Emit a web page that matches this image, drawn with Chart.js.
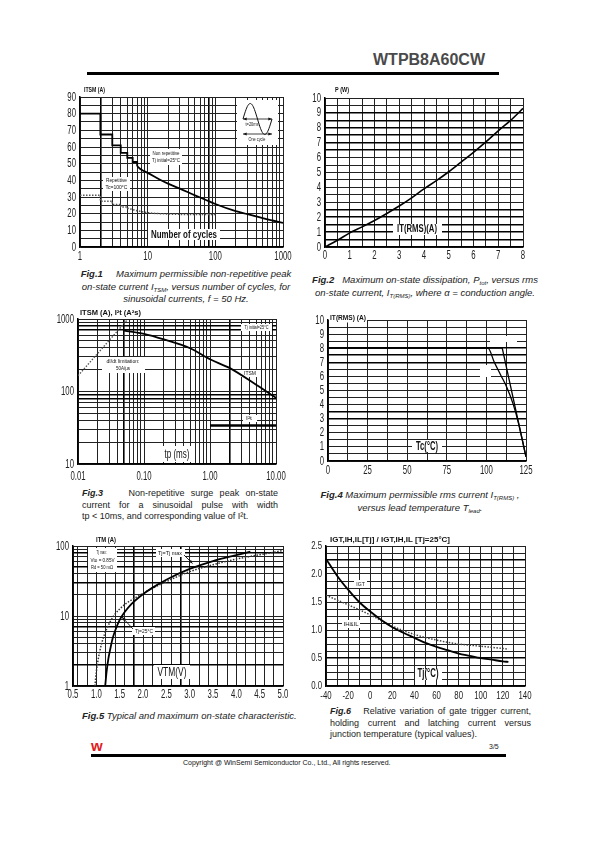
<!DOCTYPE html>
<html>
<head>
<meta charset="utf-8">
<title>WTPB8A60CW</title>
<script src="https://cdn.jsdelivr.net/npm/chart.js@4.4.1/dist/chart.umd.min.js"></script>
<style>
html,body{margin:0;padding:0;background:#fff;}
body{width:595px;height:842px;position:relative;overflow:hidden;font-family:'Liberation Sans',Arial,sans-serif;color:#111;}
canvas{position:absolute;}
.abs{position:absolute;white-space:nowrap;}
.cap{position:absolute;font-size:9.5px;line-height:12.5px;font-style:italic;color:#222;white-space:nowrap;}
.cap b{font-weight:bold;}
.reg{font-style:normal;font-size:9px;line-height:11.5px;}
.j{text-align:justify;text-align-last:justify;white-space:normal;}
sub{font-size:6px;vertical-align:-2px;line-height:0;}
</style>
</head>
<body>
<div class="abs" style="left:373px;top:52px;font-size:16px;font-weight:bold;color:#4a4a4a;line-height:16px;">WTPB8A60CW</div>
<div class="abs" style="left:87px;top:72px;width:412px;height:3px;background:#000;"></div>

<div class="cap" style="left:78px;top:268px;width:216px;text-align:center;"><b>Fig.1</b>&nbsp;&nbsp;&nbsp;&nbsp; Maximum permissible non-repetitive peak<br>on-state current I<sub>TSM</sub>, versus number of cycles, for<br>sinusoidal currents, f = 50 Hz.</div>
<div class="cap" style="left:312px;top:272.5px;width:226px;line-height:13px;text-align:center;"><b>Fig.2</b>&nbsp;&nbsp; Maximum on-state dissipation, P<sub>tot</sub>, versus rms<br>on-state current, I<sub>T(RMS)</sub>, where α = conduction angle.</div>
<div class="cap reg" style="left:82px;top:488px;width:196px;">
<div class="j"><b><i>Fig.3</i></b>&nbsp;&nbsp;&nbsp; Non-repetitive surge peak on-state</div>
<div class="j">current for a sinusoidal pulse with width</div>
<div>tp &lt; 10ms, and corresponding value of I²t.</div></div>
<div class="cap" style="left:306px;top:488px;width:228px;line-height:13px;text-align:center;"><b>Fig.4</b> Maximum permissible rms current I<sub>T(RMS)</sub> ,<br>versus lead temperature T<sub>lead</sub>.</div>
<div class="cap" style="left:82px;top:710px;"><b>Fig.5</b> Typical and maximum on-state characteristic.</div>
<div class="cap reg" style="left:330px;top:706px;width:201px;">
<div class="j"><b><i>Fig.6</i></b>&nbsp;&nbsp; Relative variation of gate trigger current,</div>
<div class="j">holding current and latching current versus</div>
<div>junction temperature (typical values).</div></div>

<div class="abs" style="left:91px;top:738px;font-size:15px;line-height:15px;font-weight:900;color:#e02020;">w</div>
<div class="abs" style="left:489px;top:743px;font-size:7px;line-height:8px;color:#222;">3/5</div>
<div class="abs" style="left:91px;top:754px;width:415px;height:3px;background:#000;"></div>
<div class="abs" style="left:183px;top:759px;font-size:7px;line-height:8px;color:#111;">Copyright @ WinSemi Semiconductor Co., Ltd., All rights reserved.</div>

<script>
// ================= DATA =================
// Fig.1  ITSM vs number of cycles
const fig1NonRepStepCycles = [1, 2, 3, 4, 5, 6, 7];
const fig1NonRepStepItsm   = [80, 67.5, 61, 56.5, 53.5, 51, 48.5];
const fig1NonRepCycles = [7, 8, 10, 15, 20, 30, 50, 70, 100, 200, 300, 500, 700, 1000];
const fig1NonRepItsm   = [48.5, 46.5, 44.5, 40.5, 38, 35, 31, 28.5, 25.8, 21.5, 19.7, 17.3, 15.9, 14.5];
const fig1RepStepCycles = [1, 2, 3, 4, 5];
const fig1RepStepItsm   = [31, 27.5, 25.5, 24, 23.3];
const fig1RepCycles = [5, 7, 10, 20, 50, 100];
const fig1RepItsm   = [23.3, 21.8, 20.6, 19.8, 19.5, 19.5];
const fig1XTickLabels = ['1', '10', '100', '1000'];
const fig1YTickLabels = ['0', '10', '20', '30', '40', '50', '60', '70', '80', '90'];

// Fig.2  P vs IT(RMS)
const fig2Irms = [0, 0.5, 1, 1.5, 2, 2.5, 3, 3.5, 4, 4.5, 5, 5.5, 6, 6.5, 7, 7.5, 8];
const fig2Ptot = [0, 0.45, 0.95, 1.35, 1.78, 2.25, 2.75, 3.3, 3.9, 4.45, 5.05, 5.7, 6.35, 7.05, 7.8, 8.5, 9.3];
const fig2XTickLabels = ['0', '1', '2', '3', '4', '5', '6', '7', '8'];
const fig2YTickLabels = ['0', '1', '2', '3', '4', '5', '6', '7', '8', '9', '10'];

// Fig.3  ITSM, I2t vs tp
const fig3TpItsm = [0.05, 0.1, 0.2, 0.5, 1, 2, 5, 10];
const fig3Itsm   = [690, 622, 522, 395, 278, 210, 124, 82];
const fig3TpI2t  = [1, 10];
const fig3I2t    = [34, 34];
const fig3TpLimit = [0.01, 0.055];
const fig3Limit   = [165, 960];
const fig3XTickLabels = ['0.01', '0.10', '1.00', '10.00'];
const fig3YTickLabels = ['10', '100', '1000'];

// Fig.4  IT(RMS) vs Tc
const fig4TcA = [0, 101, 105, 109, 113, 117, 120, 125];
const fig4ItA = [8, 8, 7, 6.1, 5.2, 4, 2.8, 0.3];
const fig4TcB = [0, 110, 125];
const fig4ItB = [8, 8, 0.3];
const fig4XTickLabels = ['0', '25', '50', '75', '100', '125'];
const fig4YTickLabels = ['0', '1', '2', '3', '4', '5', '6', '7', '8', '9', '10'];

// Fig.5  ITM vs VTM
const fig5Vtm25 = [1.19, 1.22, 1.26, 1.3, 1.35, 1.42, 1.5, 1.6, 1.75, 2.0, 2.25, 2.5, 3.0, 3.5, 4.0, 4.3];
const fig5Itm25 = [1, 1.6, 2.5, 3.4, 4.8, 6.6, 8.8, 11.2, 14.8, 20.5, 26.5, 33, 47, 61, 74, 83];
const fig5VtmMax = [0.97, 1.0, 1.04, 1.09, 1.15, 1.22, 1.3, 1.39, 1.5, 1.65, 1.85, 2.1, 2.5, 3.0, 3.5, 4.0, 4.5, 5.0];
const fig5ItmMax = [1, 1.6, 2.4, 3.5, 4.9, 6.5, 8.4, 10.4, 12.6, 15.3, 18.5, 23, 31, 43, 54, 65, 75, 86];
const fig5XTickLabels = ['0.5', '1.0', '1.5', '2.0', '2.5', '3.0', '3.5', '4.0', '4.5', '5.0'];
const fig5YTickLabels = ['1', '10', '100'];

// Fig.6  relative IGT, IH, IL vs Tj
const fig6TjIgt = [-40, -30, -20, -10, 0, 10, 20, 30, 40, 50, 60, 70, 80, 90, 100, 110, 120, 125];
const fig6Igt   = [2.27, 1.97, 1.72, 1.5, 1.33, 1.18, 1.05, 0.95, 0.86, 0.77, 0.7, 0.64, 0.58, 0.54, 0.5, 0.47, 0.44, 0.43];
const fig6TjIh  = [-40, -20, 0, 20, 40, 60, 80, 100, 125];
const fig6Ih    = [1.62, 1.45, 1.27, 1.07, 0.92, 0.82, 0.75, 0.71, 0.66];
const fig6XTickLabels = ['-40', '-20', '0', '20', '40', '60', '80', '100', '120', '140'];
const fig6YTickLabels = ['0.0', '0.5', '1.0', '1.5', '2.0', '2.5'];

// ================= HELPERS =================
const FAM = "'Liberation Sans', Arial, sans-serif";
const pts = (xs, ys) => xs.map((x, i) => ({x: x, y: ys[i]}));
function linGrid(min, max, step) {
  const out = []; const n = Math.round((max - min) / step);
  for (let i = 0; i <= n; i++) out.push(+(min + i * step).toFixed(6));
  return out;
}
function logGrid(min, max) {
  const out = [];
  for (let e = Math.floor(Math.log10(min)); Math.pow(10, e) <= max * 1.0001; e++)
    for (let k = 1; k <= 9; k++) {
      const v = +(k * Math.pow(10, e)).toPrecision(6);
      if (v >= min * 0.9999 && v <= max * 1.0001) out.push(v);
    }
  return out;
}
function drawText(ctx, txt, x, y, o) {
  ctx.save();
  const size = o.size || 10;
  ctx.font = (o.italic ? 'italic ' : '') + (o.bold ? 'bold ' : '') + size + 'px ' + FAM;
  const nat = ctx.measureText(txt).width;
  const sx = o.w ? o.w / nat : (o.sx || 1);
  const w = nat * sx;
  const left = o.align === 'left' ? x : (o.align === 'right' ? x - w : x - w / 2);
  ctx.translate(left, y);
  ctx.scale(sx, 1);
  ctx.textAlign = 'left';
  ctx.textBaseline = 'middle';
  ctx.fillStyle = o.color || '#111';
  ctx.fillText(txt, 0, 0);
  ctx.restore();
}
function arrowHead(ctx, x1, y1, x2, y2, len) {
  const a = Math.atan2(y2 - y1, x2 - x1);
  ctx.beginPath();
  ctx.moveTo(x2, y2);
  ctx.lineTo(x2 - len * Math.cos(a - 0.4), y2 - len * Math.sin(a - 0.4));
  ctx.lineTo(x2 - len * Math.cos(a + 0.4), y2 - len * Math.sin(a + 0.4));
  ctx.closePath(); ctx.fill();
}
function arrowLine(ctx, x1, y1, x2, y2, both) {
  ctx.beginPath(); ctx.moveTo(x1, y1); ctx.lineTo(x2, y2); ctx.stroke();
  arrowHead(ctx, x1, y1, x2, y2, 4);
  if (both) arrowHead(ctx, x2, y2, x1, y1, 4);
}

function makeChart(box, cfg) {
  const P = {l: 32, t: 16, r: 16, b: 20};
  const W = box.R - box.L + P.l + P.r, H = box.B - box.T + P.t + P.b;
  const cv = document.createElement('canvas');
  cv.width = W; cv.height = H;
  cv.style.left = (box.L - P.l) + 'px'; cv.style.top = (box.T - P.t) + 'px';
  cv.style.width = W + 'px'; cv.style.height = H + 'px';
  document.body.appendChild(cv);
  const isThick = (list, v) => (list || []).some(t => Math.abs(t - v) < 1e-6 * Math.max(1, Math.abs(t)));
  const axis = (a, horiz) => ({
    type: a.type, min: a.min, max: a.max, position: horiz ? 'bottom' : 'left',
    afterBuildTicks: s => { s.ticks = a.grid.map(v => ({value: v})); },
    afterFit: s => { if (horiz) s.height = P.b; else s.width = P.l; },
    ticks: {display: false, autoSkip: false},
    grid: {
      drawTicks: false, tickLength: 0,
      color: c => (c.tick && isThick(a.thick, c.tick.value)) ? '#000' : '#222',
      lineWidth: c => (c.tick && isThick(a.thick, c.tick.value)) ? 1.6 : 1
    },
    border: {display: true, color: '#000', width: 1.5}
  });
  const X = (chart, px) => px - box.L + chart.chartArea.left;
  const Y = (chart, py) => py - box.T + chart.chartArea.top;
  const plugin = {
    id: 'pageNotes',
    beforeDatasetsDraw(chart) {
      const ctx = chart.ctx;
      ctx.save();
      ctx.fillStyle = '#fff';
      (cfg.boxes || []).forEach(b => ctx.fillRect(X(chart, b[0]), Y(chart, b[1]), b[2] - b[0], b[3] - b[1]));
      ctx.restore();
      if (cfg.decor) { ctx.save(); cfg.decor(ctx, px => X(chart, px), py => Y(chart, py)); ctx.restore(); }
      (cfg.notes || []).forEach(n => drawText(ctx, n.t, X(chart, n.x), Y(chart, n.y), n));
    },
    afterDraw(chart) {
      const ctx = chart.ctx, a = chart.chartArea, xs = chart.scales.x, ys = chart.scales.y, ts = cfg.tick;
      cfg.xLabels.forEach(l => drawText(ctx, l, xs.getPixelForValue(Number(l)), a.bottom + ts.xOff,
        {size: ts.size, sx: ts.sx, color: '#222'}));
      cfg.yLabels.forEach(l => drawText(ctx, l, a.left - ts.yGap, ys.getPixelForValue(Number(l)),
        {size: ts.size, sx: ts.sx, align: 'right', color: '#222'}));
    }
  };
  return new Chart(cv, {
    type: 'line',
    data: {datasets: cfg.datasets},
    options: {
      responsive: false, animation: false, devicePixelRatio: 1,
      layout: {padding: {left: 0, top: P.t, right: P.r, bottom: 0}, autoPadding: false},
      plugins: {legend: {display: false}, tooltip: {enabled: false}},
      elements: {point: {radius: 0, hoverRadius: 0}, line: {borderCapStyle: 'butt'}},
      scales: {x: axis(cfg.x, true), y: axis(cfg.y, false)}
    },
    plugins: [plugin]
  });
}
const solid = (data, w, extra) => Object.assign({data: data, borderColor: '#000', borderWidth: w, fill: false}, extra || {});
const dotted = (data, w, color, extra) => Object.assign({data: data, borderColor: color, borderWidth: w, borderDash: [1.5, 1.5], fill: false}, extra || {});
const MONO = {cubicInterpolationMode: 'monotone'};
const TICK = {size: 13, sx: 0.6, xOff: 9, yGap: 4};

// ================= FIG 1 =================
makeChart({L: 80, T: 97, R: 283, B: 247}, {
  x: {type: 'logarithmic', min: 1, max: 1000, grid: logGrid(1, 1000), thick: [2, 80]},
  y: {type: 'linear', min: 0, max: 90, grid: linGrid(0, 90, 5)},
  xLabels: fig1XTickLabels, yLabels: fig1YTickLabels,
  tick: Object.assign({}, TICK, {xOff: 9}),
  datasets: [
    solid(pts(fig1NonRepStepCycles, fig1NonRepStepItsm), 1.8, {stepped: true}),
    solid(pts(fig1NonRepCycles, fig1NonRepItsm), 1.8, MONO),
    dotted(pts(fig1RepStepCycles, fig1RepStepItsm), 1.5, '#555', {stepped: true}),
    dotted(pts(fig1RepCycles, fig1RepItsm), 1.5, '#555', MONO)
  ],
  boxes: [[150, 149, 182, 165], [103, 177, 130, 191], [148, 229, 220, 240], [237, 100, 278, 145]],
  notes: [
    {t: 'ITSM (A)', x: 84, y: 90, align: 'left', size: 7, bold: true, w: 21},
    {t: 'Non repetitive', x: 166, y: 153, size: 6, w: 27},
    {t: 'Tj initial=25°C', x: 166, y: 160, size: 6, w: 28},
    {t: 'Repetitive', x: 116.5, y: 180.5, size: 6, w: 21},
    {t: 'Tc=100°C', x: 116.5, y: 187.5, size: 6, w: 22},
    {t: 'Number of cycles', x: 184, y: 234.5, size: 11, bold: true, w: 66},
    {t: 't=20ms', x: 252, y: 124.5, size: 5, w: 13},
    {t: 'One cycle', x: 257, y: 140, size: 5, w: 17}
  ],
  decor: (ctx, X, Y) => {
    ctx.strokeStyle = '#111'; ctx.fillStyle = '#111'; ctx.lineWidth = 1;
    ctx.beginPath();
    for (let i = 0; i <= 48; i++) {
      const t = i / 48, x = X(243 + 29 * t), y = Y(119 - 15.5 * Math.sin(2 * Math.PI * t));
      if (i) ctx.lineTo(x, y); else ctx.moveTo(x, y);
    }
    ctx.stroke();
    ctx.lineWidth = 0.8;
    arrowLine(ctx, X(243), Y(119), X(272), Y(119), true);
    arrowLine(ctx, X(243), Y(134), X(272), Y(134), true);
  }
});

// ================= FIG 2 =================
makeChart({L: 325, T: 98, R: 523, B: 247}, {
  x: {type: 'linear', min: 0, max: 8, grid: linGrid(0, 8, 0.5)},
  y: {type: 'linear', min: 0, max: 10, grid: linGrid(0, 10, 0.5), thick: [0.5, 1, 1.5, 2, 2.5, 6.5, 7, 7.5, 8, 8.5, 9]},
  xLabels: fig2XTickLabels, yLabels: fig2YTickLabels,
  tick: Object.assign({}, TICK, {xOff: 8.5}),
  datasets: [solid(pts(fig2Irms, fig2Ptot), 1.6, MONO)],
  boxes: [[393, 224, 442, 235]],
  notes: [
    {t: 'P (W)', x: 335, y: 90, align: 'left', size: 7, bold: true, w: 14},
    {t: 'IT(RMS)(A)', x: 417, y: 229.5, size: 10, bold: true, w: 40}
  ]
});

// ================= FIG 3 =================
makeChart({L: 78, T: 319, R: 276, B: 464}, {
  x: {type: 'logarithmic', min: 0.01, max: 10, grid: logGrid(0.01, 10), thick: [0.05, 2]},
  y: {type: 'logarithmic', min: 10, max: 1000, grid: logGrid(10, 1000), thick: [700, 800, 80, 90]},
  xLabels: fig3XTickLabels, yLabels: fig3YTickLabels,
  tick: Object.assign({}, TICK, {xOff: 12}),
  datasets: [
    solid(pts(fig3TpItsm, fig3Itsm), 1.8, MONO),
    solid(pts(fig3TpI2t, fig3I2t), 2.6),
    dotted(pts(fig3TpLimit, fig3Limit), 1.3, '#555')
  ],
  boxes: [[241, 324, 272, 331], [102, 357, 145, 373], [240, 370, 260, 377], [243, 415, 257, 422], [163, 446, 195, 462]],
  notes: [
    {t: 'ITSM (A), I²t (A²s)', x: 80, y: 313.5, align: 'left', size: 7, bold: true, w: 61},
    {t: 'Tj initial=25°C', x: 256.5, y: 327.5, size: 6, w: 24},
    {t: 'dI/dt limitation:', x: 123, y: 361.5, size: 6, w: 33},
    {t: '50A/µs', x: 123, y: 368.5, size: 6, w: 14},
    {t: 'ITSM', x: 250, y: 373.5, size: 6, w: 12},
    {t: 'I²t', x: 249, y: 418.5, size: 6, w: 6},
    {t: 'tp (ms)', x: 177, y: 454.5, size: 13, w: 25}
  ]
});

// ================= FIG 4 =================
makeChart({L: 328, T: 320, R: 526, B: 461}, {
  x: {type: 'linear', min: 0, max: 125, grid: linGrid(0, 125, 12.5)},
  y: {type: 'linear', min: 0, max: 10, grid: linGrid(0, 10, 0.5), thick: [3, 3.5, 7, 7.5, 8]},
  xLabels: fig4XTickLabels, yLabels: fig4YTickLabels,
  tick: Object.assign({}, TICK, {xOff: 9.5}),
  datasets: [
    solid(pts(fig4TcA, fig4ItA), 1.3, MONO),
    solid(pts(fig4TcB, fig4ItB), 1.3)
  ],
  boxes: [[329, 314, 367, 322.5], [490, 336, 517, 342], [480, 365, 491, 377], [412, 440, 442, 452]],
  notes: [
    {t: 'IT(RMS) (A)', x: 330, y: 318.5, align: 'left', size: 7, bold: true, w: 36},
    {t: 'Tc(°C)', x: 427, y: 446.5, size: 12, bold: true, w: 22}
  ]
});

// ================= FIG 5 =================
makeChart({L: 73, T: 546, R: 283, B: 686}, {
  x: {type: 'linear', min: 0.5, max: 5.0, grid: [0.5].concat(linGrid(0.6, 5.0, 0.2)), thick: [1.8, 2.8]},
  y: {type: 'logarithmic', min: 1, max: 100, grid: logGrid(1, 100), thick: [2, 7, 30, 50, 80]},
  xLabels: fig5XTickLabels, yLabels: fig5YTickLabels,
  tick: Object.assign({}, TICK, {xOff: 8.5}),
  datasets: [
    solid(pts(fig5Vtm25, fig5Itm25), 1.8, MONO),
    dotted(pts(fig5VtmMax, fig5ItmMax), 1.5, '#333', MONO)
  ],
  boxes: [[88, 548, 117, 572], [156, 549, 185, 557], [132, 627, 155, 635], [154, 665, 190, 679]],
  notes: [
    {t: 'ITM (A)', x: 96, y: 540, align: 'left', size: 7, bold: true, w: 20},
    {t: 'Tj max:', x: 101.5, y: 552.5, size: 6, w: 10},
    {t: 'Vto = 0.85V', x: 102.5, y: 560, size: 6, w: 24},
    {t: 'Rd = 50 mΩ', x: 102, y: 567.3, size: 6, w: 22},
    {t: 'Tj=Tj max', x: 170, y: 553, size: 6, w: 24},
    {t: 'Tj=25°C', x: 144, y: 631, size: 6, w: 18},
    {t: 'VTM(V)', x: 172, y: 672, size: 13, w: 29}
  ],
  decor: (ctx, X, Y) => {
    ctx.strokeStyle = '#111'; ctx.fillStyle = '#111'; ctx.lineWidth = 0.9;
    arrowLine(ctx, X(184), Y(555), X(192.5), Y(563.5), false);
    arrowLine(ctx, X(133), Y(629), X(122), Y(617), false);
  }
});

// ================= FIG 6 =================
makeChart({L: 326, T: 546, R: 525, B: 686}, {
  x: {type: 'linear', min: -40, max: 140, grid: linGrid(-40, 140, 10)},
  y: {type: 'linear', min: 0, max: 2.5, grid: linGrid(0, 2.5, 0.125), thick: [0.5, 2.25]},
  xLabels: fig6XTickLabels, yLabels: fig6YTickLabels,
  tick: {size: 11.5, sx: 0.68, xOff: 9.5, yGap: 4},
  datasets: [
    solid(pts(fig6TjIgt, fig6Igt), 1.8, MONO),
    dotted(pts(fig6TjIh, fig6Ih), 1.5, '#444', MONO)
  ],
  boxes: [[354, 580, 367, 588], [342, 620, 360, 628], [415, 669, 442, 680]],
  notes: [
    {t: 'IGT,IH,IL[Tj] / IGT,IH,IL [Tj=25°C]', x: 330, y: 540, align: 'left', size: 8, bold: true, w: 120},
    {t: 'IGT', x: 360.5, y: 584, size: 6, w: 8.5},
    {t: 'IH&IL', x: 351, y: 624, size: 6, w: 15},
    {t: 'Tj(°C)', x: 428, y: 674, size: 12, bold: true, w: 21}
  ]
});
</script>
</body>
</html>
